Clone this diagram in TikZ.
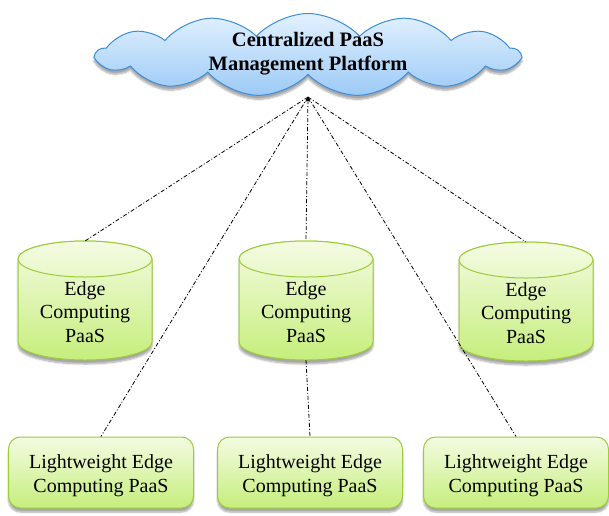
\documentclass[tikz,border=0pt]{standalone}
\usepackage{fontspec}
\setmainfont{Liberation Serif}
\newfontfamily\labelface{Liberation Serif}
\usetikzlibrary{shapes.symbols,shadows.blur,arrows.meta}

\definecolor{greenedge}{HTML}{9CCB3B}
\definecolor{greentop}{HTML}{F4FBE2}
\definecolor{greenbot}{HTML}{C6EE7C}
\definecolor{blueedge}{HTML}{3C8DDC}
\definecolor{bluetop}{HTML}{E2F1FF}
\definecolor{bluebot}{HTML}{9CCAF6}

\tikzset{
  softshadow/.style={blur shadow={shadow blur steps=6, shadow xshift=0pt,
      shadow yshift=-4pt, shadow opacity=35}},
  platform/.style={cloud, cloud puffs=13, cloud puff arc=95, aspect=5,
      draw=blueedge, line width=1pt, top color=bluetop, bottom color=bluebot,
      minimum width=423pt, minimum height=83pt, inner sep=0pt, softshadow},
  platformtext/.style={font=\labelface\fontsize{20.5}{24}\selectfont\bfseries,
      align=center, inner sep=0pt},
  drumbody/.style={draw=greenedge, line width=1pt, top color=greentop,
      bottom color=greenbot, softshadow},
  drumlid/.style={draw=greenedge, line width=1pt, top color=greentop,
      bottom color=greentop!75!greenbot},
  paastext/.style={font=\labelface\fontsize{20}{23.5}\selectfont,
      align=center, inner sep=0pt},
  lightbox/.style={rectangle, rounded corners=12pt, draw=greenedge, line width=1pt,
      top color=greentop, bottom color=greenbot,
      minimum width=185pt, minimum height=71pt, inner sep=0pt, softshadow},
  lighttext/.style={font=\labelface\fontsize{20}{24}\selectfont,
      align=center, inner sep=0pt},
  link/.style={black, line width=0.8pt,
      dash pattern=on 4pt off 2pt on 1pt off 2pt},
}

% an upright storage drum: #1 name, (#2,#3) centre of its lid
\newcommand\paasdrum[3]{%
  \begin{scope}[shift={(#2,#3)}]
    \path[drumbody] (-67,0) -- (-67,83)
      arc[start angle=180, end angle=360, x radius=67pt, y radius=18pt]
      -- (67,0)
      arc[start angle=0, end angle=180, x radius=67pt, y radius=18pt] -- cycle;
    \path[drumlid] (0,0) ellipse [x radius=67pt, y radius=18pt];
    \coordinate (#1-n) at (0,-18);
    \coordinate (#1-s) at (0,101);
    \node[paastext] (#1-text) at (0,53) {Edge\\Computing\\PaaS};
  \end{scope}}

\begin{document}
\begin{tikzpicture}[x=1pt,y=-1pt]
  \useasboundingbox (0,0) rectangle (609,515);

  % management cloud
  \node[platform] (cloud) at (308,55) {};
  \node[platformtext] (cloudtext) at (308,54) {Centralized PaaS\\Management Platform};
  \coordinate (apex) at (308,97);

  % edge computing PaaS stores
  \paasdrum{e1}{85}{259}
  \paasdrum{e2}{306}{259}
  \paasdrum{e3}{526}{260}

  % lightweight edge PaaS boxes
  \node[lightbox] (l1) at (101,472.5) {};
  \node[lightbox] (l2) at (310,472.5) {};
  \node[lightbox] (l3) at (516,472.5) {};
  \node[lighttext] (l1text) at (101,476) {Lightweight Edge\\Computing PaaS};
  \node[lighttext] (l2text) at (310,476) {Lightweight Edge\\Computing PaaS};
  \node[lighttext] (l3text) at (516,476) {Lightweight Edge\\Computing PaaS};

  % control links
  \draw[link] (apex) -- (e1-n);
  \draw[link,{Stealth[length=5pt,width=5pt]}-] (apex) -- (e2-n);
  \draw[link] (apex) -- (e3-n);
  \draw[link] (apex) -- (l1.north);
  \draw[link] (apex) -- (l3.north);
  \draw[link] (e2-s) -- (l2.north);
\end{tikzpicture}
\end{document}
